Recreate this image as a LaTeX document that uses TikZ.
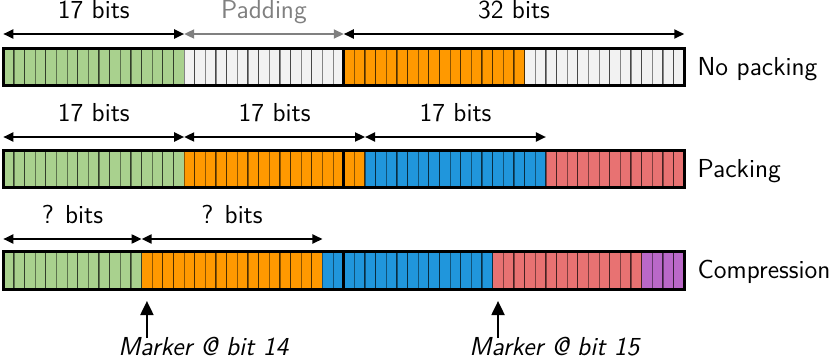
\documentclass[tikz,border=0pt]{standalone}
\usetikzlibrary{arrows.meta}

\definecolor{bitgreen}{RGB}{169,209,142}
\definecolor{bitorange}{RGB}{255,153,0}
\definecolor{bitblue}{RGB}{32,150,220}
\definecolor{bitred}{RGB}{232,114,114}
\definecolor{bitpurple}{RGB}{186,104,200}
\definecolor{bitpad}{RGB}{242,242,242}
\definecolor{padgray}{RGB}{128,128,128}

\tikzset{
    cell/.style={draw=black, draw opacity=0.45, line width=0.6pt},
    barline/.style={draw=black, line width=1.5pt},
    dimarrow/.style={{Triangle[length=5pt,width=4.5pt]}-{Triangle[length=5pt,width=4.5pt]}, line width=1pt},
    dimlabel/.style={midway, anchor=base, yshift=7.7pt, inner sep=0pt},
    rowlabel/.style={anchor=base west, inner sep=0pt, xshift=6.5pt, yshift=-4pt},
    markarrow/.style={-{Triangle[length=7pt,width=6.5pt]}, line width=1pt},
    marklabel/.style={anchor=base west, inner sep=0pt, xshift=-14.5pt, yshift=-9pt,
        font=\sffamily\itshape\fontsize{13}{15}\selectfont},
}

\begin{document}
\begin{tikzpicture}[x=5.32pt, y=10pt, font=\sffamily\fontsize{13}{15}\selectfont]
\useasboundingbox (-0.31,0) rectangle (77.7,18.05);

% ---- 第一行：No packing ----
\foreach \a/\b/\c in {0/16/bitgreen, 17/31/bitpad, 32/48/bitorange, 49/63/bitpad} {
    \foreach \i in {\a,...,\b}
        \filldraw[cell, fill=\c] (\i,13.77) rectangle ++(1,1.86);
}
\draw[barline] (0,13.77) rectangle (64,15.63);
\draw[barline] (32,13.77) -- (32,15.63);
\node[rowlabel] (lnopack) at (64,14.7) {No packing};

% ---- 第一行的长度箭头 ----
\foreach \b in {0,17,32,64}
    \coordinate (a1-\b) at (\b,16.35);
\draw[dimarrow] (a1-0) -- node[dimlabel] (t1a) {17 bits} (a1-17);
\draw[dimarrow, padgray] (a1-17) -- node[dimlabel, text=padgray] (t1b) {Padding} (a1-32);
\draw[dimarrow] (a1-32) -- node[dimlabel] (t1c) {32 bits} (a1-64);

% ---- 第二行：Packing ----
\foreach \a/\b/\c in {0/16/bitgreen, 17/33/bitorange, 34/50/bitblue, 51/63/bitred} {
    \foreach \i in {\a,...,\b}
        \filldraw[cell, fill=\c] (\i,8.67) rectangle ++(1,1.86);
}
\draw[barline] (0,8.67) rectangle (64,10.53);
\draw[barline] (32,8.67) -- (32,10.53);
\node[rowlabel] (lpack) at (64,9.6) {Packing};

% ---- 第二行的长度箭头 ----
\foreach \b in {0,17,34,51}
    \coordinate (a2-\b) at (\b,11.2);
\draw[dimarrow] (a2-0) -- node[dimlabel] (t2a) {17 bits} (a2-17);
\draw[dimarrow] (a2-17) -- node[dimlabel] (t2b) {17 bits} (a2-34);
\draw[dimarrow] (a2-34) -- node[dimlabel] (t2c) {17 bits} (a2-51);

% ---- 第三行：Compression ----
\foreach \a/\b/\c in {0/12/bitgreen, 13/29/bitorange, 30/45/bitblue, 46/59/bitred, 60/63/bitpurple} {
    \foreach \i in {\a,...,\b}
        \filldraw[cell, fill=\c] (\i,3.6) rectangle ++(1,1.86);
}
\draw[barline] (0,3.6) rectangle (64,5.46);
\draw[barline] (32,3.6) -- (32,5.46);
\node[rowlabel] (lcomp) at (64,4.53) {Compression};

% ---- 第三行的长度箭头 ----
\foreach \b in {0,13,30}
    \coordinate (a3-\b) at (\b,6.1);
\draw[dimarrow] (a3-0) -- node[dimlabel] (t3a) {? bits} (a3-13);
\draw[dimarrow] (a3-13) -- node[dimlabel] (t3b) {? bits} (a3-30);

% ---- 标记位置 ----
\foreach \n/\xat in {14/13.5, 15/46.5} {
    \coordinate (m\n) at (\xat,3.0);
    \coordinate (m\n t) at (\xat,1.15);
    \draw[markarrow] (m\n t) -- (m\n);
    \node[marklabel] (lm\n) at (m\n t) {Marker @ bit \n};
}
\end{tikzpicture}
\end{document}
